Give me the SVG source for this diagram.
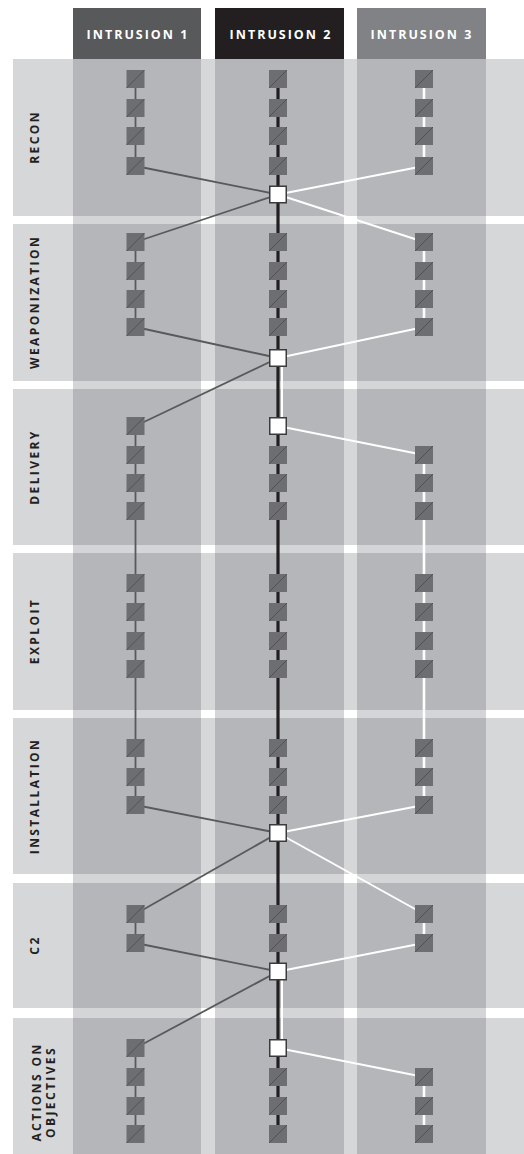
<svg xmlns="http://www.w3.org/2000/svg" xmlns:xlink="http://www.w3.org/1999/xlink" width="524" height="1154" viewBox="0 0 524 1154">
<style>
.hdr{font-family:"Open Sans","Liberation Sans",sans-serif;font-weight:700;font-size:12.5px;letter-spacing:2px;fill:#ffffff;text-anchor:middle}
.lbl{font-family:"Open Sans","Liberation Sans",sans-serif;font-weight:700;font-size:12px;letter-spacing:2.4px;fill:#231f20;text-anchor:middle}
.g1{stroke:#58595b;stroke-width:1.8;fill:none}
.g2{stroke:#231f20;stroke-width:3.2;fill:none}
.g3{stroke:#ffffff;stroke-width:2.6;fill:none}
.d3{stroke:#ffffff;stroke-width:2;fill:none}
</style>
<defs>
<clipPath id="rowsClip">
<rect x="0" y="59" width="524" height="157"/>
<rect x="0" y="224" width="524" height="157"/>
<rect x="0" y="389" width="524" height="156"/>
<rect x="0" y="553" width="524" height="157"/>
<rect x="0" y="718" width="524" height="156"/>
<rect x="0" y="883" width="524" height="125"/>
<rect x="0" y="1018" width="524" height="136"/>
</clipPath>
<g id="sq"><rect x="-9" y="-9" width="18" height="18" fill="#6d6e71"/><line x1="-9" y1="9" x2="9" y2="-9" stroke="#4a4a4c" stroke-width="0.8"/></g>
<g id="hub"><rect x="-8.25" y="-8.25" width="16.5" height="16.5" fill="#ffffff" stroke="#3b3b3d" stroke-width="1.5"/></g>
</defs>
<rect x="0" y="0" width="524" height="1154" fill="#ffffff"/>
<g id="bands">
<g fill="#d6d7d9">
<rect x="13" y="59" width="511" height="157"/>
<rect x="13" y="224" width="511" height="157"/>
<rect x="13" y="389" width="511" height="156"/>
<rect x="13" y="553" width="511" height="157"/>
<rect x="13" y="718" width="511" height="156"/>
<rect x="13" y="883" width="511" height="125"/>
<rect x="13" y="1018" width="511" height="136"/>
</g>
<g fill="#d4d5d7">
<rect x="73" y="59" width="128" height="1095"/>
<rect x="215" y="59" width="129" height="1095"/>
<rect x="357" y="59" width="129" height="1095"/>
</g>
<g fill="#b5b6b9" clip-path="url(#rowsClip)">
<rect x="73" y="59" width="128" height="1095"/>
<rect x="215" y="59" width="129" height="1095"/>
<rect x="357" y="59" width="129" height="1095"/>
</g>
</g>
<g id="headers">
<g id="hdr1"><rect x="73" y="8" width="128" height="51" fill="#58595b"/><text class="hdr" x="138" y="39">INTRUSION 1</text></g>
<g id="hdr2"><rect x="215" y="8" width="129" height="51" fill="#231f20"/><text class="hdr" x="281" y="39">INTRUSION 2</text></g>
<g id="hdr3"><rect x="357" y="8" width="129" height="51" fill="#808285"/><text class="hdr" x="422" y="39">INTRUSION 3</text></g>
</g>
<g id="labels">
<text class="lbl" transform="translate(39,137) rotate(-90)">RECON</text>
<text class="lbl" transform="translate(39,302) rotate(-90)">WEAPONIZATION</text>
<text class="lbl" transform="translate(39,467) rotate(-90)">DELIVERY</text>
<text class="lbl" transform="translate(39,631) rotate(-90)">EXPLOIT</text>
<text class="lbl" transform="translate(39,796) rotate(-90)">INSTALLATION</text>
<text class="lbl" transform="translate(39,945) rotate(-90)">C2</text>
<text class="lbl" transform="translate(41,1092) rotate(-90)">ACTIONS ON</text>
<text class="lbl" transform="translate(54.5,1092) rotate(-90)">OBJECTIVES</text>
</g>
<g id="connectors">
<line class="g1" x1="135.5" y1="79" x2="135.5" y2="166"/>
<line class="g1" x1="135.5" y1="242" x2="135.5" y2="327"/>
<line class="g1" x1="135.5" y1="426" x2="135.5" y2="805"/>
<line class="g1" x1="135.5" y1="914" x2="135.5" y2="943"/>
<line class="g1" x1="135.5" y1="1048" x2="135.5" y2="1134"/>
<line class="g2" x1="278" y1="79" x2="278" y2="1134"/>
<line class="g3" x1="424" y1="79" x2="424" y2="166"/>
<line class="g3" x1="424" y1="242" x2="424" y2="327"/>
<line class="g3" x1="424" y1="455" x2="424" y2="805"/>
<line class="g3" x1="424" y1="914" x2="424" y2="943"/>
<line class="g3" x1="424" y1="1077" x2="424" y2="1134"/>
<line class="g1" x1="135.5" y1="166" x2="278" y2="194.5"/>
<line class="g1" x1="278" y1="194.5" x2="135.5" y2="242"/>
<line class="d3" x1="424" y1="166" x2="278" y2="194.5"/>
<line class="d3" x1="278" y1="194.5" x2="424" y2="242"/>
<line class="g1" x1="135.5" y1="327" x2="278" y2="358"/>
<line class="d3" x1="424" y1="327" x2="278" y2="358"/>
<line class="g1" x1="278" y1="358" x2="135.5" y2="426"/>
<line class="d3" x1="282" y1="366" x2="282" y2="418"/>
<line class="d3" x1="278" y1="426" x2="424" y2="455"/>
<line class="g1" x1="135.5" y1="805" x2="278" y2="833"/>
<line class="d3" x1="424" y1="805" x2="278" y2="833"/>
<line class="g1" x1="278" y1="833" x2="135.5" y2="914"/>
<line class="d3" x1="278" y1="833" x2="424" y2="914"/>
<line class="g1" x1="135.5" y1="943" x2="278" y2="971.5"/>
<line class="d3" x1="424" y1="943" x2="278" y2="971.5"/>
<line class="g1" x1="278" y1="971.5" x2="135.5" y2="1048"/>
<line class="d3" x1="282" y1="979" x2="282" y2="1040"/>
<line class="d3" x1="278" y1="1048" x2="424" y2="1077"/>
</g>
<g id="nodes">
<g id="n1-recon-1"><use href="#sq" x="135.5" y="79"/></g>
<g id="n1-recon-2"><use href="#sq" x="135.5" y="108"/></g>
<g id="n1-recon-3"><use href="#sq" x="135.5" y="136"/></g>
<g id="n1-recon-4"><use href="#sq" x="135.5" y="166"/></g>
<g id="n2-recon-1"><use href="#sq" x="278" y="79"/></g>
<g id="n2-recon-2"><use href="#sq" x="278" y="108"/></g>
<g id="n2-recon-3"><use href="#sq" x="278" y="136"/></g>
<g id="n2-recon-4"><use href="#sq" x="278" y="166"/></g>
<g id="hub-recon"><use href="#hub" x="278" y="194.5"/></g>
<g id="n3-recon-1"><use href="#sq" x="424" y="79"/></g>
<g id="n3-recon-2"><use href="#sq" x="424" y="108"/></g>
<g id="n3-recon-3"><use href="#sq" x="424" y="136"/></g>
<g id="n3-recon-4"><use href="#sq" x="424" y="166"/></g>

<g id="n1-weap-1"><use href="#sq" x="135.5" y="242"/></g>
<g id="n1-weap-2"><use href="#sq" x="135.5" y="271"/></g>
<g id="n1-weap-3"><use href="#sq" x="135.5" y="299"/></g>
<g id="n1-weap-4"><use href="#sq" x="135.5" y="327"/></g>
<g id="n2-weap-1"><use href="#sq" x="278" y="242"/></g>
<g id="n2-weap-2"><use href="#sq" x="278" y="271"/></g>
<g id="n2-weap-3"><use href="#sq" x="278" y="299"/></g>
<g id="n2-weap-4"><use href="#sq" x="278" y="327"/></g>
<g id="hub-weap"><use href="#hub" x="278" y="358"/></g>
<g id="n3-weap-1"><use href="#sq" x="424" y="242"/></g>
<g id="n3-weap-2"><use href="#sq" x="424" y="271"/></g>
<g id="n3-weap-3"><use href="#sq" x="424" y="299"/></g>
<g id="n3-weap-4"><use href="#sq" x="424" y="327"/></g>

<g id="n1-deliv-1"><use href="#sq" x="135.5" y="426"/></g>
<g id="n1-deliv-2"><use href="#sq" x="135.5" y="455"/></g>
<g id="n1-deliv-3"><use href="#sq" x="135.5" y="483"/></g>
<g id="n1-deliv-4"><use href="#sq" x="135.5" y="511"/></g>
<g id="hub-deliv"><use href="#hub" x="278" y="426"/></g>
<g id="n2-deliv-2"><use href="#sq" x="278" y="455"/></g>
<g id="n2-deliv-3"><use href="#sq" x="278" y="483"/></g>
<g id="n2-deliv-4"><use href="#sq" x="278" y="511"/></g>
<g id="n3-deliv-2"><use href="#sq" x="424" y="455"/></g>
<g id="n3-deliv-3"><use href="#sq" x="424" y="483"/></g>
<g id="n3-deliv-4"><use href="#sq" x="424" y="511"/></g>

<g id="n1-expl-1"><use href="#sq" x="135.5" y="583"/></g>
<g id="n1-expl-2"><use href="#sq" x="135.5" y="612"/></g>
<g id="n1-expl-3"><use href="#sq" x="135.5" y="641"/></g>
<g id="n1-expl-4"><use href="#sq" x="135.5" y="669"/></g>
<g id="n2-expl-1"><use href="#sq" x="278" y="583"/></g>
<g id="n2-expl-2"><use href="#sq" x="278" y="612"/></g>
<g id="n2-expl-3"><use href="#sq" x="278" y="641"/></g>
<g id="n2-expl-4"><use href="#sq" x="278" y="669"/></g>
<g id="n3-expl-1"><use href="#sq" x="424" y="583"/></g>
<g id="n3-expl-2"><use href="#sq" x="424" y="612"/></g>
<g id="n3-expl-3"><use href="#sq" x="424" y="641"/></g>
<g id="n3-expl-4"><use href="#sq" x="424" y="669"/></g>

<g id="n1-inst-1"><use href="#sq" x="135.5" y="748"/></g>
<g id="n1-inst-2"><use href="#sq" x="135.5" y="777"/></g>
<g id="n1-inst-3"><use href="#sq" x="135.5" y="805"/></g>
<g id="n2-inst-1"><use href="#sq" x="278" y="748"/></g>
<g id="n2-inst-2"><use href="#sq" x="278" y="777"/></g>
<g id="n2-inst-3"><use href="#sq" x="278" y="805"/></g>
<g id="hub-inst"><use href="#hub" x="278" y="833"/></g>
<g id="n3-inst-1"><use href="#sq" x="424" y="748"/></g>
<g id="n3-inst-2"><use href="#sq" x="424" y="777"/></g>
<g id="n3-inst-3"><use href="#sq" x="424" y="805"/></g>

<g id="n1-c2-1"><use href="#sq" x="135.5" y="914"/></g>
<g id="n1-c2-2"><use href="#sq" x="135.5" y="943"/></g>
<g id="n2-c2-1"><use href="#sq" x="278" y="914"/></g>
<g id="n2-c2-2"><use href="#sq" x="278" y="943"/></g>
<g id="hub-c2"><use href="#hub" x="278" y="971.5"/></g>
<g id="n3-c2-1"><use href="#sq" x="424" y="914"/></g>
<g id="n3-c2-2"><use href="#sq" x="424" y="943"/></g>

<g id="n1-act-1"><use href="#sq" x="135.5" y="1048"/></g>
<g id="n1-act-2"><use href="#sq" x="135.5" y="1077"/></g>
<g id="n1-act-3"><use href="#sq" x="135.5" y="1106"/></g>
<g id="n1-act-4"><use href="#sq" x="135.5" y="1134"/></g>
<g id="hub-act"><use href="#hub" x="278" y="1048"/></g>
<g id="n2-act-2"><use href="#sq" x="278" y="1077"/></g>
<g id="n2-act-3"><use href="#sq" x="278" y="1106"/></g>
<g id="n2-act-4"><use href="#sq" x="278" y="1134"/></g>
<g id="n3-act-2"><use href="#sq" x="424" y="1077"/></g>
<g id="n3-act-3"><use href="#sq" x="424" y="1106"/></g>
<g id="n3-act-4"><use href="#sq" x="424" y="1134"/></g>
</g>
</svg>
